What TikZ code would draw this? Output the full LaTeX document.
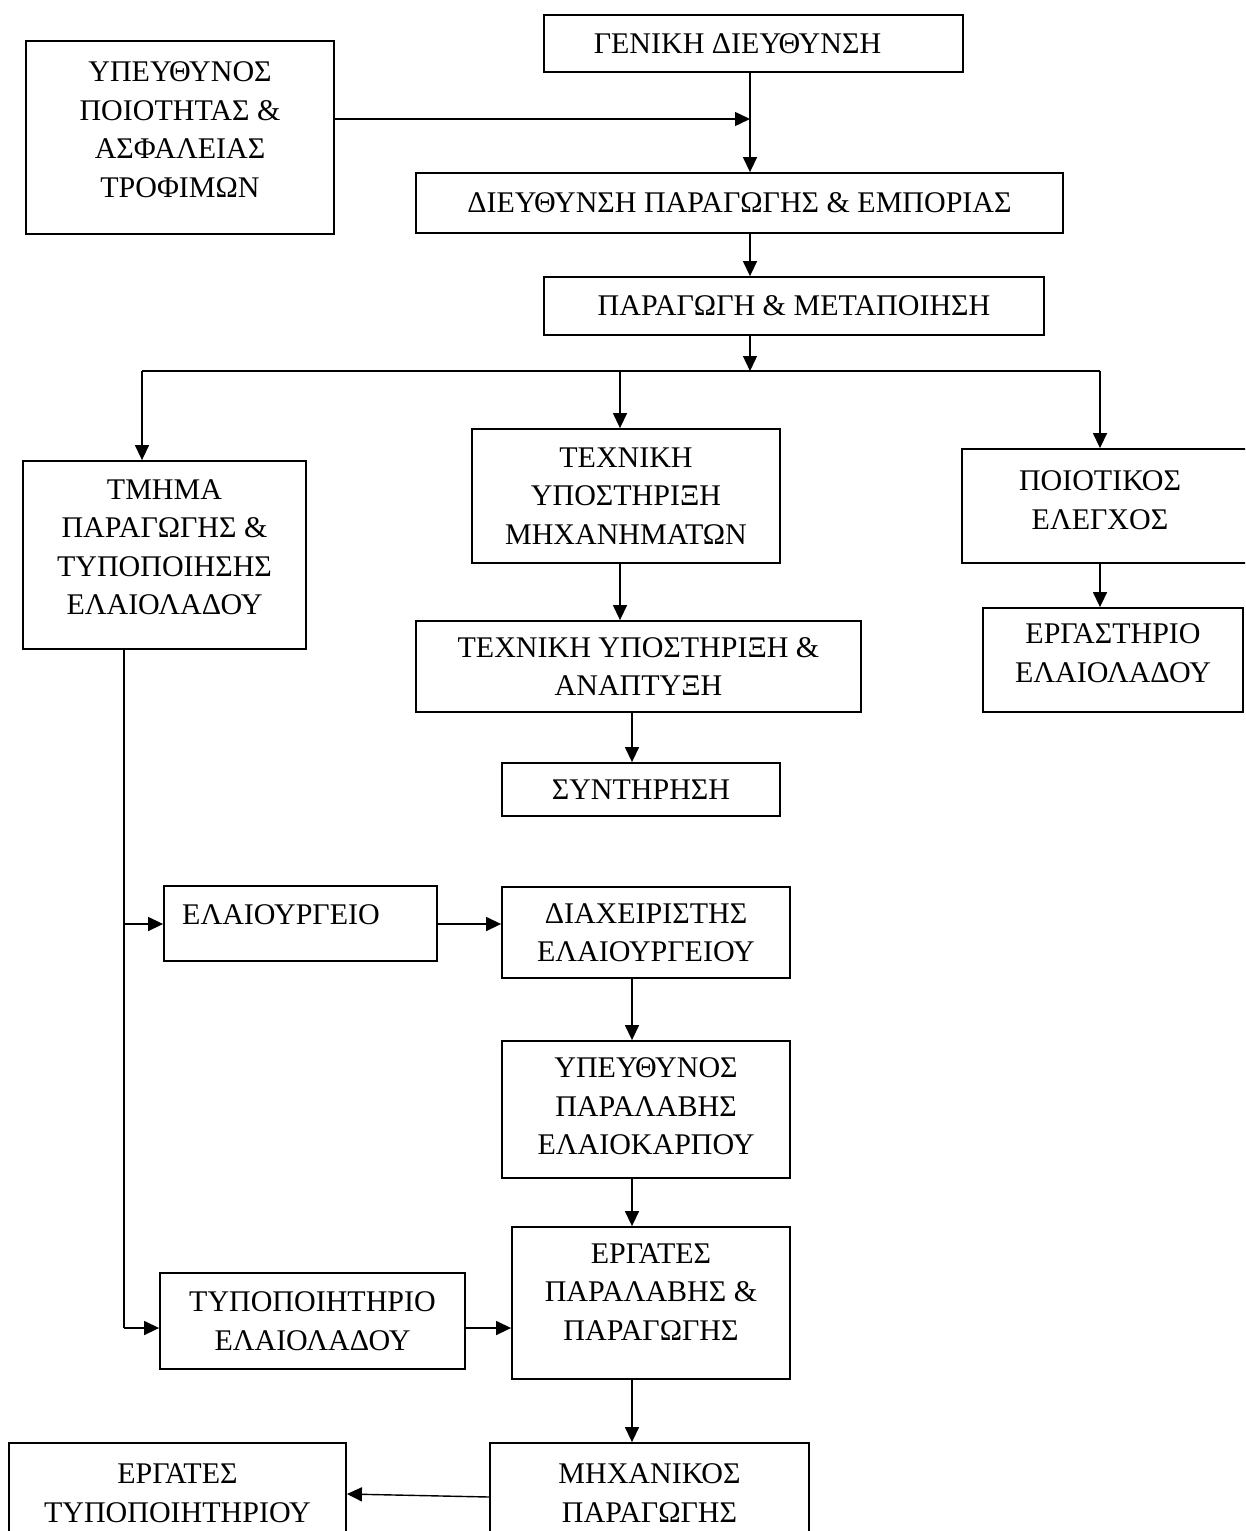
\documentclass[tikz,border=0pt]{standalone}
\usepackage{fontspec}
\setmainfont{Liberation Serif}
\usetikzlibrary{arrows.meta}

\begin{document}
\begin{tikzpicture}[x=1pt, y=-1pt,
    box/.style={draw, line width=1.8pt, align=center, inner sep=0pt,
                font=\fontsize{30}{38.5}\selectfont},
    arr/.style={line width=1.4pt, -{Triangle[length=15pt,width=14pt]}},
    link/.style={line width=1.4pt}]
  \useasboundingbox (0,0) rectangle (1245,1531);
  \clip (0,0) rectangle (1245,1531);

  % Management
  \node[box, minimum width=419pt, minimum height=57pt] (gen) at (753.5,43.5)
       {ΓΕΝΙΚΗ ΔΙΕΥΘΥΝΣΗ\hspace*{32pt}};
  \node[box, minimum width=308pt, minimum height=193pt, text depth=16pt] (qual) at (180,137.5)
       {ΥΠΕΥΘΥΝΟΣ\\ΠΟΙΟΤΗΤΑΣ \&\\ΑΣΦΑΛΕΙΑΣ\\ΤΡΟΦΙΜΩΝ};
  \node[box, minimum width=647pt, minimum height=60pt] (dir) at (739.5,203)
       {ΔΙΕΥΘΥΝΣΗ ΠΑΡΑΓΩΓΗΣ \& ΕΜΠΟΡΙΑΣ};
  \node[box, minimum width=500pt, minimum height=58pt] (prod) at (794,306)
       {ΠΑΡΑΓΩΓΗ \& ΜΕΤΑΠΟΙΗΣΗ};

  % Departments
  \node[box, minimum width=283pt, minimum height=188pt, text depth=16pt] (dept) at (164.5,555)
       {ΤΜΗΜΑ\\ΠΑΡΑΓΩΓΗΣ \&\\ΤΥΠΟΠΟΙΗΣΗΣ\\ΕΛΑΙΟΛΑΔΟΥ};
  \node[box, minimum width=308pt, minimum height=134pt] (techm) at (626,496)
       {ΤΕΧΝΙΚΗ\\ΥΠΟΣΤΗΡΙΞΗ\\ΜΗΧΑΝΗΜΑΤΩΝ};
  \node[box, minimum width=300pt, minimum height=114pt, text depth=12pt] (qc) at (1112,506)
       {ΠΟΙΟΤΙΚΟΣ\hspace*{24pt}\\ΕΛΕΓΧΟΣ\hspace*{24pt}};
  \node[box, minimum width=260pt, minimum height=104pt, text depth=14pt] (lab) at (1113,660)
       {ΕΡΓΑΣΤΗΡΙΟ\\ΕΛΑΙΟΛΑΔΟΥ};
  \node[box, minimum width=445pt, minimum height=91pt] (techa) at (638.5,666.5)
       {ΤΕΧΝΙΚΗ ΥΠΟΣΤΗΡΙΞΗ \&\\ΑΝΑΠΤΥΞΗ};
  \node[box, minimum width=278pt, minimum height=53pt] (maint) at (641,789.5)
       {ΣΥΝΤΗΡΗΣΗ};

  % Mill and bottling
  \node[box, minimum width=273pt, minimum height=75pt, text depth=17pt] (mill) at (300.5,923.5)
       {ΕΛΑΙΟΥΡΓΕΙΟ\hspace*{39pt}};
  \node[box, minimum width=288pt, minimum height=91pt] (millmgr) at (646,932.5)
       {ΔΙΑΧΕΙΡΙΣΤΗΣ\\ΕΛΑΙΟΥΡΓΕΙΟΥ};
  \node[box, minimum width=288pt, minimum height=137pt, text depth=6pt] (recv) at (646,1109.5)
       {ΥΠΕΥΘΥΝΟΣ\\ΠΑΡΑΛΑΒΗΣ\\ΕΛΑΙΟΚΑΡΠΟΥ};
  \node[box, minimum width=278pt, minimum height=152pt, text depth=22pt] (workp) at (651,1303)
       {ΕΡΓΑΤΕΣ\\ΠΑΡΑΛΑΒΗΣ \&\\ΠΑΡΑΓΩΓΗΣ};
  \node[box, minimum width=305pt, minimum height=96pt] (bottl) at (312.5,1321)
       {ΤΥΠΟΠΟΙΗΤΗΡΙΟ\\ΕΛΑΙΟΛΑΔΟΥ};
  \node[box, minimum width=319pt, minimum height=100pt] (eng) at (649.5,1493)
       {ΜΗΧΑΝΙΚΟΣ\\ΠΑΡΑΓΩΓΗΣ};
  \node[box, minimum width=337pt, minimum height=100pt] (workb) at (177.5,1493)
       {ΕΡΓΑΤΕΣ\\ΤΥΠΟΠΟΙΗΤΗΡΙΟΥ};

  % Column and branch points
  \coordinate (join) at (750,119);
  \coordinate (fork) at (750,371);
  \coordinate (forkL) at (142,371);
  \coordinate (forkM) at (620,371);
  \coordinate (forkR) at (1100,371);
  \coordinate (col) at (632,800);
  \coordinate (spineE) at (124,924);
  \coordinate (spineB) at (124,1328);

  % Top connectors
  \draw[link] (gen.south -| join) -- (join);
  \draw[arr] (join) -- (dir.north -| join);
  \draw[arr] (qual.east |- join) -- (join);
  \draw[arr] (dir.south -| join) -- (prod.north -| join);
  \draw[arr] (prod.south -| fork) -- (fork);
  \draw[link] (forkL) -- (forkR);
  \draw[arr] (forkL) -- (dept.north -| forkL);
  \draw[arr] (forkM) -- (techm.north -| forkM);
  \draw[arr] (forkR) -- (qc.north -| forkR);

  % Branches
  \draw[arr] (qc.south -| forkR) -- (lab.north -| forkR);
  \draw[arr] (techm.south -| forkM) -- (techa.north -| forkM);
  \draw[arr] (techa.south -| col) -- (maint.north -| col);

  % Left spine
  \draw[link] (dept.south -| spineE) -- (spineB);
  \draw[arr] (spineE) -- (spineE -| mill.west);
  \draw[arr] (spineB) -- (spineB -| bottl.west);
  \draw[arr] (mill.east |- spineE) -- (millmgr.west |- spineE);
  \draw[arr] (bottl.east |- spineB) -- (workp.west |- spineB);

  % Middle column
  \draw[arr] (millmgr.south -| col) -- (recv.north -| col);
  \draw[arr] (recv.south -| col) -- (workp.north -| col);
  \draw[arr] (workp.south -| col) -- (eng.north -| col);
  \draw[arr] ([yshift=-4pt]eng.west) -- ([yshift=-1pt]workb.east);
\end{tikzpicture}
\end{document}
